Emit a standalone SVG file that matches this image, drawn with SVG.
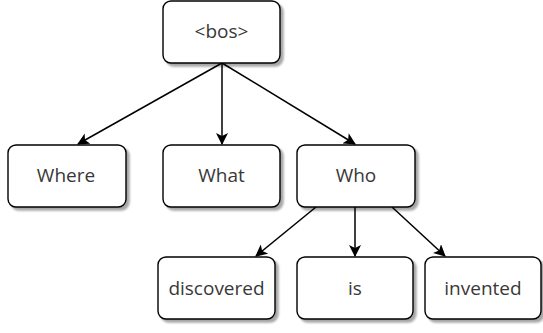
<svg xmlns="http://www.w3.org/2000/svg" width="543" height="333" viewBox="0 0 543 333">
<defs>
<filter id="sh" x="-10%" y="-10%" width="130%" height="130%">
<feGaussianBlur in="SourceAlpha" stdDeviation="1.2"/>
<feOffset dx="3" dy="3" result="b"/>
<feComponentTransfer><feFuncA type="linear" slope="0.35"/></feComponentTransfer>
<feMerge><feMergeNode/><feMergeNode in="SourceGraphic"/></feMerge>
</filter>
<marker id="ah" viewBox="0 0 12 12" refX="11" refY="6" markerWidth="12" markerHeight="12" markerUnits="userSpaceOnUse" orient="auto">
<path d="M0,0 L12,6 L0,12 L3,6 Z" fill="#000"/>
</marker>
<style>
.box{fill:#fff;stroke:#000;stroke-width:1.4;filter:url(#sh)}
.lbl{font-family:"Open Sans","DejaVu Sans",sans-serif;font-size:19px;fill:#383838;text-anchor:middle;dominant-baseline:central}
.edge{stroke:#000;stroke-width:1.5;fill:none;marker-end:url(#ah)}
</style>
</defs>
<rect width="543" height="333" fill="#fff"/>
<g id="connectors">
<line class="edge" x1="222" y1="63" x2="78" y2="144"/>
<line class="edge" x1="222" y1="63" x2="222" y2="144"/>
<line class="edge" x1="222" y1="63" x2="355" y2="144"/>
<line class="edge" x1="316" y1="207" x2="256" y2="256"/>
<line class="edge" x1="355" y1="207" x2="355" y2="256"/>
<line class="edge" x1="392" y1="207" x2="445" y2="256"/>
</g>
<g id="bos"><rect class="box" x="163" y="1" width="117" height="62" rx="8"/><text class="lbl" x="221.5" y="31">&lt;bos&gt;</text></g>
<g id="where"><rect class="box" x="8" y="145" width="118" height="62" rx="8"/><text class="lbl" x="66" y="175">Where</text></g>
<g id="what"><rect class="box" x="163" y="145" width="117" height="62" rx="8"/><text class="lbl" x="221.5" y="175">What</text></g>
<g id="who"><rect class="box" x="297" y="145" width="118" height="62" rx="8"/><text class="lbl" x="356" y="175">Who</text></g>
<g id="discovered"><rect class="box" x="158" y="257" width="117" height="62" rx="8"/><text class="lbl" x="216.5" y="288">discovered</text></g>
<g id="is"><rect class="box" x="297" y="257" width="116" height="62" rx="8"/><text class="lbl" x="355" y="288">is</text></g>
<g id="invented"><rect class="box" x="425" y="257" width="116" height="62" rx="8"/><text class="lbl" x="483" y="288">invented</text></g>
</svg>
